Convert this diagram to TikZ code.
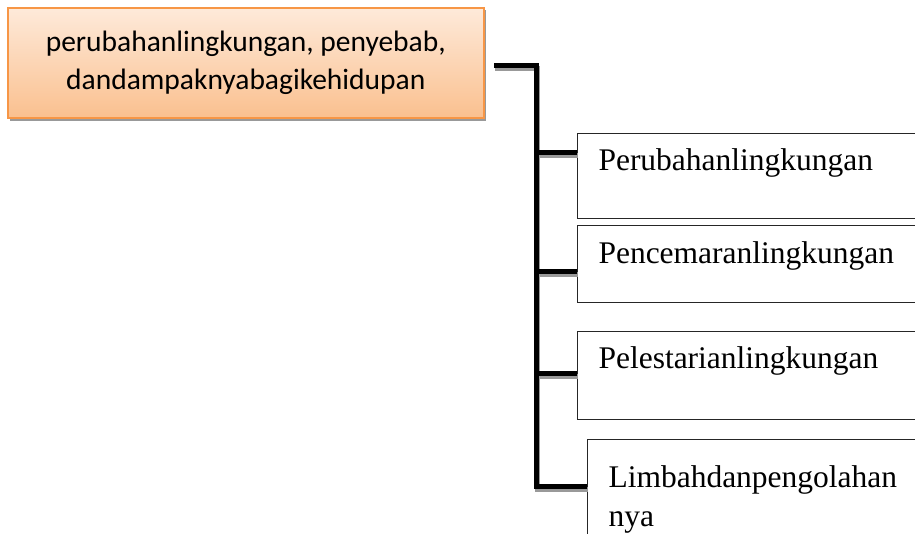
\documentclass[tikz,border=0pt]{standalone}
\usepackage{fontspec}
\setmainfont{Liberation Serif}
\newfontfamily\calib{Carlito}
\usetikzlibrary{positioning}
\definecolor{orfill1}{HTML}{FEEADA}
\definecolor{orfill2}{HTML}{FAC08F}
\definecolor{orline}{HTML}{F79646}
\newcommand{\connpaths}[1]{%
  \draw[#1] (hub) -- (elbow) |- ([yshift=-47pt]b4.north west);
  \draw[#1] (elbow) |- ([yshift=-19pt]b1.north west);
  \draw[#1] (elbow) |- ([yshift=-46pt]b2.north west);
  \draw[#1] (elbow) |- ([yshift=-42pt]b3.north west);
}
\tikzset{
  rootbox/.style={draw=orline, line width=1.5pt, top color=orfill1, bottom color=orfill2,
    minimum width=476pt, minimum height=110pt, inner sep=0pt, align=center,
    font=\calib\fontsize{29.5}{38}\selectfont, anchor=north west},
  leafbox/.style={draw=black!85, line width=1pt, fill=white, anchor=north west,
    inner xsep=21pt, inner ysep=0pt, text width=308pt, align=left,
    font=\fontsize{31.5}{39}\selectfont},
  conn/.style={line width=5pt, line join=miter, black},
  shade/.style={line width=5pt, line join=miter, black!40,
    transform canvas={shift={(1pt,-3pt)}}},
}
\begin{document}
\begin{tikzpicture}[x=1pt,y=-1pt]
\useasboundingbox (0,0) rectangle (915,533);
\clip (0,0) rectangle (915,533);
% root shadow
\fill[black!40] (10,10) rectangle (486,121);
\node[rootbox] (root) at (7,7) {perubahanlingkungan, penyebab,\\dandampaknyabagikehidupan};
% leaf boxes
\node[leafbox, text height=37pt, text depth=48pt] (b1) at (577,133) {Perubahanlingkungan};
\node[leafbox, text height=38pt, text depth=39pt] (b2) at (577,225) {Pencemaranlingkungan};
\node[leafbox, text height=37pt, text depth=51pt] (b3) at (577,331) {Pelestarianlingkungan};
\node[leafbox, text height=48pt, text depth=70pt] (b4) at (587,439) {Limbahdanpengolahan\\nya};
% connectors
\coordinate (hub) at (494,65);
\coordinate (elbow) at (536,65);
\connpaths{shade}
\connpaths{conn}
\end{tikzpicture}
\end{document}
